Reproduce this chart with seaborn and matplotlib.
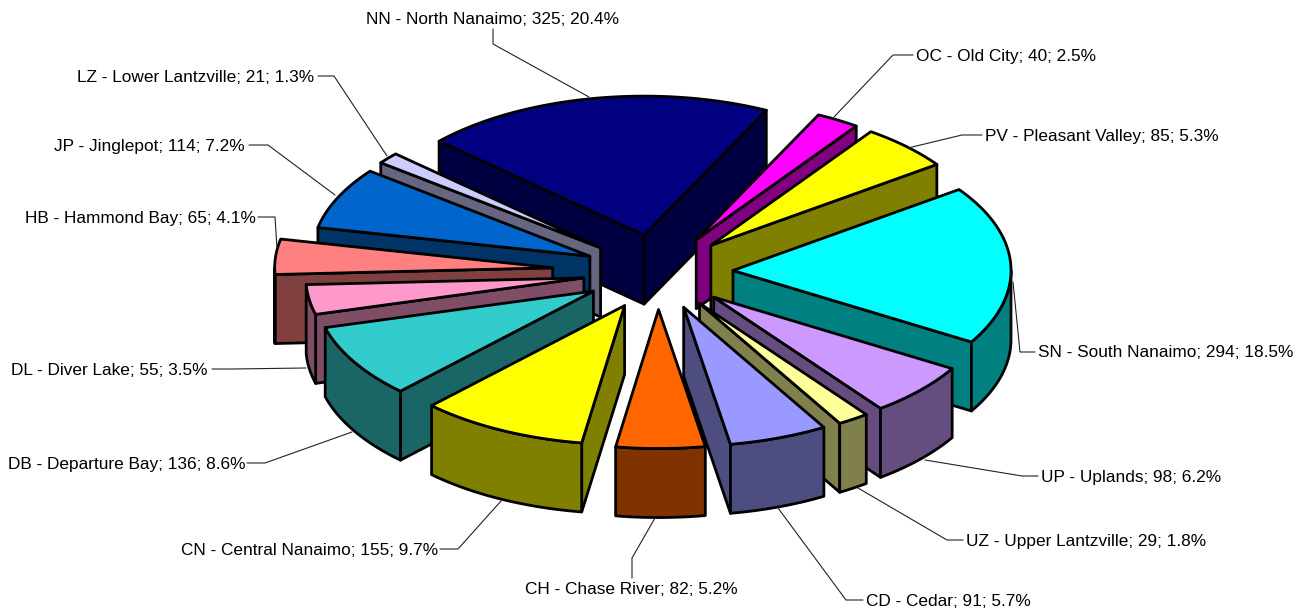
import numpy as np
import matplotlib
matplotlib.use("Agg")
import matplotlib.pyplot as plt
from matplotlib.patches import Polygon
import seaborn as sns

names = ["NN - North Nanaimo", "OC - Old City", "PV - Pleasant Valley", "SN - South Nanaimo",
         "UP - Uplands", "UZ - Upper Lantzville", "CD - Cedar", "CH - Chase River",
         "CN - Central Nanaimo", "DB - Departure Bay", "DL - Diver Lake", "HB - Hammond Bay",
         "JP - Jinglepot", "LZ - Lower Lantzville"]
counts = [325, 40, 85, 294, 98, 29, 91, 82, 155, 136, 55, 65, 114, 21]
top_colors = ["#000080", "#FF00FF", "#FFFF00", "#00FFFF", "#CC99FF", "#FFFF99", "#9999FF",
              "#FF6600", "#FFFF00", "#33CCCC", "#FF99CC", "#FF8080", "#0066CC", "#CCCCFF"]
explode = [.27, .27, .27, .27, .27, .27, .27, .27, .27, .27, .27, .38, .27, .27]

# layout (pixels)
text_xy = [(366, 19.5), (916, 56.5), (985, 136.5), (1038, 352.5), (1041, 477.5), (966, 541.5), (866, 601.5),
           (525, 589.5), (181, 550.5), (8, 464.5), (11, 370.5), (25, 218.5), (54, 146.5), (77, 77.5)]
leaders = [[(493, 29), (493, 44), (589, 97)], [(913, 55), (893, 55), (834, 117)],
           [(982, 135), (962, 135), (908, 148)], [(1035, 352), (1020, 352), (1013, 282)],
           [(1038, 476), (1022, 476), (925, 460)], [(963, 540), (947, 540), (858, 488)],
           [(863, 600), (846, 600), (778, 508)], [(632, 578), (632, 558), (655, 518)],
           [(440, 549), (458, 549), (501, 501)], [(247, 463), (265, 463), (352, 432)],
           [(212, 369), (232, 369), (306, 368)], [(258, 217), (275, 217), (277, 248)],
           [(249, 145), (268, 145), (335, 195)], [(318, 76), (334, 76), (387, 156)]]
CX, CY, RX, RY, DEPTH = 658, 272, 278, 139, 69
START = -47.5

sns.set_theme(style="white")
plt.rcParams['font.family'] = ['Liberation Sans', 'DejaVu Sans']
fig = plt.figure(figsize=(13.04, 6.11), dpi=100)
ax = fig.add_axes([0, 0, 1, 1])
ax.set_xlim(0, 1304)
ax.set_ylim(611, 0)
ax.axis("off")

vals = np.array(counts, float)
total = vals.sum()
edges = START + np.concatenate([[0], np.cumsum(vals)]) / total * 360
side_colors = [tuple(c * .5 for c in sns.color_palette([h])[0]) for h in top_colors]


def arc(ax0, ay0, t0, t1):
    t = np.radians(np.linspace(t0, t1, max(int(abs(t1 - t0) * 2), 2)))
    return np.column_stack([ax0 + RX * np.sin(t), ay0 - RY * np.cos(t)])


style = dict(edgecolor="black", linewidth=2.0, joinstyle="round")
mids = (edges[:-1] + edges[1:]) / 2
order = np.argsort(-np.cos(np.radians(mids)))
for z, i in enumerate(order):
    t0, t1 = edges[i], edges[i + 1]
    m = np.radians(mids[i])
    ax0 = CX + explode[i] * RX * np.sin(m)
    ay0 = CY - explode[i] * RY * np.cos(m)
    apex = np.array([ax0, ay0])
    d = np.array([0, DEPTH])
    # cut faces that look toward the viewer
    for t, vis in ((t0, np.sin(np.radians(t0)) < 0), (t1, np.sin(np.radians(t1)) > 0)):
        if vis:
            p = arc(ax0, ay0, t, t)[0]
            ax.add_patch(Polygon([apex, p, p + d, apex + d], facecolor=side_colors[i], zorder=z, **style))
    # outer wall on the front half of the rim
    for lo, hi in ((90, 270), (450, 630)):
        a, b = max(t0, lo), min(t1, hi)
        if a < b:
            rim = arc(ax0, ay0, a, b)
            ax.add_patch(Polygon(np.vstack([rim, (rim + d)[::-1]]), facecolor=side_colors[i], zorder=z, **style))
    rim = arc(ax0, ay0, t0, t1)
    ax.add_patch(Polygon(np.vstack([apex, rim]), facecolor=top_colors[i], zorder=z, **style))

for i, (n, c) in enumerate(zip(names, counts)):
    ax.text(*text_xy[i], f"{n}; {c}; {c / total * 100:.1f}%", fontsize=12.45, color="black",
            ha="left", va="center", zorder=50)
    xs, ys = zip(*leaders[i])
    ax.plot(xs, ys, color="#222222", lw=0.8, zorder=40)

fig.savefig("out.png", dpi=100)
